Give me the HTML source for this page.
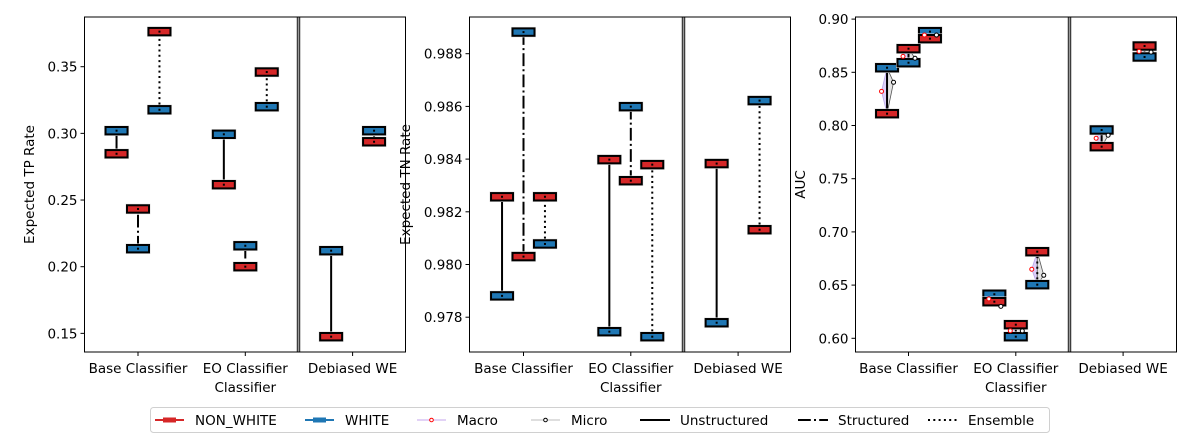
<!DOCTYPE html>
<html><head><meta charset="utf-8"><style>
body{margin:0;background:#fff;}
svg{display:block;font-family:"DejaVu Sans","Liberation Sans",sans-serif;}
</style></head><body>
<svg id="chart" width="1200" height="440" viewBox="0 0 1200 440" xmlns="http://www.w3.org/2000/svg"></svg>
<script>
// ---- data ----
const categories = ["Base Classifier", "EO Classifier", "Debiased WE"];
const methods = ["Unstructured", "Structured", "Ensemble"];
// TP rate [category][method] (null = absent)
const tpWhite = [[0.302, 0.2135, 0.3177], [0.2993, 0.2157, 0.320], [0.212, null, 0.302]];
const tpNonWhite = [[0.2847, 0.2433, 0.3763], [0.2615, 0.200, 0.346], [0.1475, null, 0.2937]];
// TN rate
const tnWhite = [[0.97881, 0.98882, 0.98078], [0.97745, 0.98599, 0.97726], [0.97779, null, 0.98622]];
const tnNonWhite = [[0.98257, 0.98030, 0.98257], [0.98398, 0.98318, 0.98379], [0.98383, null, 0.98132]];
// AUC
const aucWhite = [[0.8543, 0.859, 0.8882], [0.6414, 0.6015, 0.6504], [0.7958, null, 0.8644]];
const aucNonWhite = [[0.8111, 0.8722, 0.8816], [0.6344, 0.6128, 0.6814], [0.7801, null, 0.8747]];
const aucMacro = [[0.8321, 0.865, 0.885], [0.637, 0.6071, 0.6649], [0.788, null, 0.8697]];
const aucMicro = [[0.8406, 0.8632, 0.885], [0.630, 0.607, 0.6592], [0.7908, null, 0.869]];
const tpTicks = [0.15, 0.20, 0.25, 0.30, 0.35];
const tnTicks = [0.978, 0.980, 0.982, 0.984, 0.986, 0.988];
const aucTicks = [0.60, 0.65, 0.70, 0.75, 0.80, 0.85, 0.90];

const NS = "http://www.w3.org/2000/svg";
const svg = document.getElementById("chart");
function mk(tag, attrs, parent) {
  const e = document.createElementNS(NS, tag);
  for (const k in attrs) e.setAttribute(k, attrs[k]);
  (parent || svg).appendChild(e);
  return e;
}
const RED = "#d62728", BLUE = "#1f77b4";
const dashes = ["", "12.8 3.2 2 3.2", "2 3.3"];

function panel(cfg) {
  const g = mk("g", {});
  
  
  const L = cfg.left, R = cfg.left + 321, T = 17, B = 352;
  const y = v => cfg.y0 + (cfg.v0 - v) * cfg.k;
  const x = c => cfg.x0 + c * 107.3;
  cfg.ticks.forEach(t => {
    const yy = y(t);
    mk("line", {x1: L - 4, x2: L, y1: yy, y2: yy, stroke: "#000", "stroke-width": 1}, g);
    const tx = mk("text", {x: L - 7, y: yy + 5, "text-anchor": "end", "font-size": 13.5}, g);
    tx.textContent = t.toFixed(cfg.dec);
    
    
  });
  categories.forEach((c, i) => {
    const xx = x(i);
    mk("line", {x1: xx, x2: xx, y1: B, y2: B + 4, stroke: "#000", "stroke-width": 1}, g);
    const tx = mk("text", {x: xx, y: B + 21, "text-anchor": "middle", "font-size": 13.5}, g);
    tx.textContent = c;
    
    
  });
  const xl = mk("text", {x: x(1), y: B + 40, "text-anchor": "middle", "font-size": 13.5}, g);
  xl.textContent = "Classifier";
  
  
  const yl = mk("text", {x: 0, y: 0, "text-anchor": "middle", "font-size": 13.5, transform: `translate(${cfg.ylx},${(T + B) / 2}) rotate(-90)`}, g);
  yl.textContent = cfg.ylabel;
  
  
  const offs = [-0.2, 0, 0.2];
  categories.forEach((c, i) => {
    methods.forEach((m, j) => {
      const w = cfg.white[i][j], n = cfg.non[i][j];
      if (w == null) return;
      const cx = x(i + offs[j]);
      if (cfg.macro) {
        const ma = cfg.macro[i][j], mi = cfg.micro[i][j];
        const p1 = mk("polygon", {points: `${cx},${y(w)} ${cx - 5.5},${y(ma)} ${cx},${y(n)}`, fill: "#dcd0f8", stroke: "#b9a6e8", "stroke-width": 0.8}, g);
        
        
        const p2 = mk("polygon", {points: `${cx},${y(w)} ${cx + 6.5},${y(mi)} ${cx},${y(n)}`, fill: "#e4e4e4", stroke: "#555", "stroke-width": 0.8}, g);
        
        
      }
      const ln = mk("line", {x1: cx, x2: cx, y1: y(w), y2: y(n), stroke: "#000", "stroke-width": 2, "stroke-dasharray": dashes[j]}, g);
      
      
      [[w, BLUE, 'white'], [n, RED, 'non-white']].forEach(([v, col, nm]) => {
        mk("rect", {x: cx - 12, y: y(v) - 4.7, width: 24, height: 9.4, fill: "none", stroke: "#e0e0e0", "stroke-width": 1}, g);
        const r = mk("rect", {x: cx - 11, y: y(v) - 3.7, width: 22, height: 7.4, fill: col, stroke: "#000", "stroke-width": 2}, g);
        
        
        mk("rect", {x: cx - 1, y: y(v) - 1, width: 2, height: 2, fill: "#000"}, g);
      });
      if (cfg.macro) {
        const ma = cfg.macro[i][j], mi = cfg.micro[i][j];
        mk("circle", {cx: cx - 5.5, cy: y(ma), r: 2, fill: "#fff", stroke: "red", "stroke-width": 1}, g);
        mk("circle", {cx: cx + 6.5, cy: y(mi), r: 2, fill: "#fff", stroke: "#000", "stroke-width": 1}, g);
      }
    });
  });
  const sx = cfg.left + 214;
  mk("line", {x1: sx - 1.2, x2: sx - 1.2, y1: T, y2: B, stroke: "#000", "stroke-width": 1}, g);
  mk("line", {x1: sx + 1.2, x2: sx + 1.2, y1: T, y2: B, stroke: "#000", "stroke-width": 1}, g);
  mk("line", {x1: sx, x2: sx, y1: T, y2: B, stroke: "#999", "stroke-width": 1.4}, g);
  const fr = mk("rect", {x: L, y: T, width: R - L, height: B - T, fill: "none", stroke: "#000", "stroke-width": 1}, g);
  
  
}
panel({name: "tp-rate-panel", left: 84.5, x0: 138, y0: 66.7, v0: 0.35, k: 1333.3, ticks: tpTicks, dec: 2, white: tpWhite, non: tpNonWhite, ylabel: "Expected TP Rate", ylx: 34});
panel({name: "tn-rate-panel", left: 469.5, x0: 523.5, y0: 53.7, v0: 0.988, k: 26350, ticks: tnTicks, dec: 3, white: tnWhite, non: tnNonWhite, ylabel: "Expected TN Rate", ylx: 410});
panel({name: "auc-panel", left: 855.5, x0: 908.5, y0: 72.3, v0: 0.85, k: 1064, ticks: aucTicks, dec: 2, white: aucWhite, non: aucNonWhite, macro: aucMacro, micro: aucMicro, ylabel: "AUC", ylx: 805});

const lg = mk("g", {});


mk("rect", {x: 150.5, y: 407.5, width: 899, height: 25, rx: 3, fill: "#fff", stroke: "#d0d0d0", "stroke-width": 1}, lg);
const entries = [
  {t: "NON_WHITE", x: 155, kind: "box", c: RED},
  {t: "WHITE", x: 305, kind: "box", c: BLUE},
  {t: "Macro", x: 417, kind: "pt", c: "#d8c4f4", m: "red"},
  {t: "Micro", x: 531, kind: "pt", c: "#d4d4d4", m: "#000"},
  {t: "Unstructured", x: 640, kind: "ln", d: dashes[0]},
  {t: "Structured", x: 798, kind: "ln", d: dashes[1]},
  {t: "Ensemble", x: 928, kind: "ln", d: "2 3.3"}
];
entries.forEach(e => {
  const g = mk("g", {}, lg);
  
  
  const yy = 420;
  if (e.kind === "box") {
    mk("line", {x1: e.x, x2: e.x + 29, y1: yy, y2: yy, stroke: e.c, "stroke-width": 2}, g);
    mk("rect", {x: e.x + 8, y: yy - 2.5, width: 13, height: 5, fill: e.c}, g);
  } else if (e.kind === "pt") {
    mk("line", {x1: e.x, x2: e.x + 29, y1: yy, y2: yy, stroke: e.c, "stroke-width": 1.5}, g);
    mk("circle", {cx: e.x + 14.5, cy: yy, r: 1.8, fill: "#fff", stroke: e.m, "stroke-width": 1}, g);
  } else {
    mk("line", {x1: e.x, x2: e.x + 30, y1: yy, y2: yy, stroke: "#000", "stroke-width": 2, "stroke-dasharray": e.d}, g);
  }
  const tx = mk("text", {x: e.x + 40, y: yy + 5, "font-size": 13.5}, g);
  tx.textContent = e.t;
});
</script>
</body></html>
